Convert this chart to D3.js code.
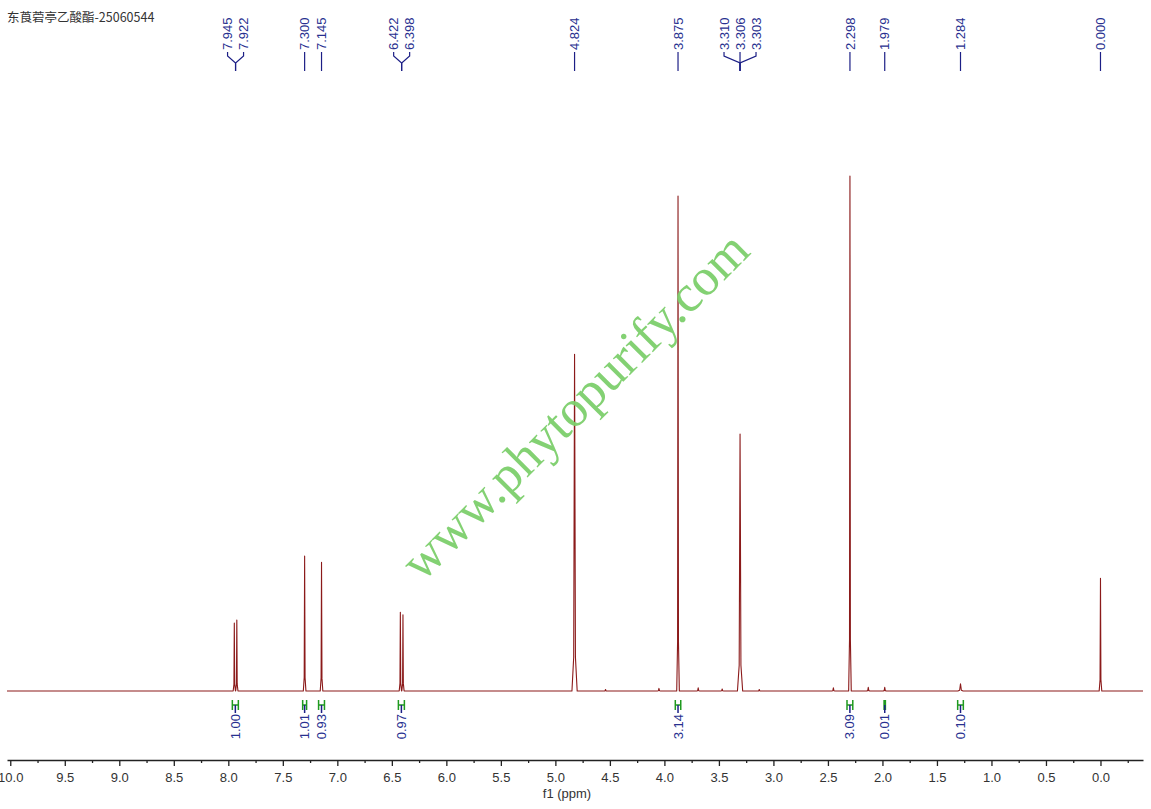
<!DOCTYPE html>
<html>
<head>
<meta charset="utf-8">
<script src="https://cdn.jsdelivr.net/npm/d3@7/dist/d3.min.js"></script>
<style>
  html, body { margin: 0; padding: 0; background: #fff; }
  svg { display: block; }
</style>
</head>
<body>
<svg id="chart" width="1151" height="809"></svg>
<script>
// ---------- DATA ----------
const title = "东莨菪亭乙酸酯-25060544";
const watermark = "www.phytopurify.com";
const axisTitle = "f1 (ppm)";

// spectrum peaks (ppm, relative intensity with 2.298 = 100, half linewidth in ppm)
const peakPpm    = [7.945, 7.922, 7.300, 7.145, 6.422, 6.398, 4.824, 3.875, 3.306, 2.298, 0.000,
                    4.54, 4.05, 3.69, 3.47, 3.13, 2.45, 2.13, 1.979, 1.284];
const peakHeight = [13.2, 13.8, 26.2, 25.0, 15.3, 14.8, 65.4, 96.1, 49.9, 100, 21.9,
                    0.3, 0.5, 0.6, 0.4, 0.3, 0.6, 0.7, 0.7, 1.4];
const peakWidth  = [0.0035, 0.0035, 0.004, 0.004, 0.0035, 0.0035, 0.008, 0.004, 0.008, 0.004, 0.004,
                    0.005, 0.005, 0.005, 0.005, 0.005, 0.005, 0.005, 0.005, 0.008];

// peak-pick labels (grouped as drawn at the top)
const labelGroups = [
  ["7.945", "7.922"],
  ["7.300"],
  ["7.145"],
  ["6.422", "6.398"],
  ["4.824"],
  ["3.875"],
  ["3.310", "3.306", "3.303"],
  ["2.298"],
  ["1.979"],
  ["1.284"],
  ["0.000"]
];

// integrals
const integralFrom  = [7.963, 7.318, 7.172, 6.440, 3.900, 2.325, 1.985, 1.310];
const integralTo    = [7.908, 7.282, 7.118, 6.385, 3.850, 2.272, 1.973, 1.258];
const integralValue = ["1.00", "1.01", "0.93", "0.97", "3.14", "3.09", "0.01", "0.10"];

// axis ticks
const majorTicks = [10.0, 9.5, 9.0, 8.5, 8.0, 7.5, 7.0, 6.5, 6.0, 5.5, 5.0, 4.5, 4.0, 3.5, 3.0, 2.5, 2.0, 1.5, 1.0, 0.5, 0.0];
const minorTicks = [9.75, 9.25, 8.75, 8.25, 7.75, 7.25, 6.75, 6.25, 5.75, 5.25, 4.75, 4.25, 3.75, 3.25, 2.75, 2.25, 1.75, 1.25, 0.75, 0.25, -0.25];
const ppmDomain = [10.03, -0.39];

// ---------- LAYOUT ----------
const svg = d3.select("#chart");
const W = 1151, H = 809;
const axisY = 760;
const baseY = 691;

const x = d3.scaleLinear().domain(ppmDomain).range([7, 1143]);
const y = d3.scaleLinear().domain([0, 100]).range([baseY, 176]);

const labelFont = "'Liberation Sans', Arial, sans-serif";
const blue = "#28308f";
const navy = "#1c1f86";
const green = "#1f9a1f";
const red = "#8b1a1a";

svg.append("rect").attr("width", W).attr("height", H).attr("fill", "#fff");

// title
svg.append("text")
  .attr("x", 7).attr("y", 22)
  .attr("font-family", "'Noto Sans CJK SC', sans-serif")
  .attr("font-size", 12.5)
  .attr("fill", "#333")
  .text(title);

// ---------- SPECTRUM ----------
const pts = [[ppmDomain[0], 0]];
const order = d3.range(peakPpm.length).sort((a, b) => peakPpm[b] - peakPpm[a]);
order.forEach(i => {
  const p = peakPpm[i], h = peakHeight[i], w = peakWidth[i];
  pts.push([p + 3 * w, 0], [p + w, 0.1 * h], [p, h], [p - w, 0.1 * h], [p - 3 * w, 0]);
});
pts.push([ppmDomain[1], 0]);

const line = d3.line().x(d => x(d[0])).y(d => y(d[1]));
svg.append("path")
  .attr("d", line(pts))
  .attr("fill", "none")
  .attr("stroke", red)
  .attr("stroke-width", 1.1)
  .attr("stroke-linejoin", "round");

// ---------- PEAK LABELS ----------
const spacing = 16;
const gLabels = svg.append("g");
labelGroups.forEach(group => {
  const vals = group.map(Number);
  const cx = x(d3.mean(vals));
  group.forEach((lab, k) => {
    const lx = cx + (k - (group.length - 1) / 2) * spacing;
    gLabels.append("text")
      .attr("transform", `translate(${lx},50) rotate(-90)`)
      .attr("text-anchor", "start")
      .attr("dy", "0.35em")
      .attr("font-family", labelFont)
      .attr("font-size", 13)
      .attr("fill", blue)
      .text(lab);
    const d = group.length === 1
      ? `M${lx},52 V71`
      : `M${lx},52 V56 L${cx},63 V71`;
    gLabels.append("path")
      .attr("d", d)
      .attr("fill", "none")
      .attr("stroke", navy)
      .attr("stroke-width", 1.2);
  });
});

// ---------- INTEGRALS ----------
const gInt = svg.append("g");
integralValue.forEach((v, i) => {
  const x1 = x(integralFrom[i]), x2 = x(integralTo[i]);
  const cx = (x1 + x2) / 2;
  gInt.append("path")
    .attr("d", `M${x1},700 V710 M${x2},700 V710 M${x1},705 H${x2}`)
    .attr("fill", "none")
    .attr("stroke", green)
    .attr("stroke-width", 1.5);
  gInt.append("path")
    .attr("d", `M${cx},705 V713`)
    .attr("stroke", navy)
    .attr("stroke-width", 1.5);
  gInt.append("text")
    .attr("transform", `translate(${cx},714) rotate(-90)`)
    .attr("text-anchor", "end")
    .attr("dy", "0.35em")
    .attr("font-family", labelFont)
    .attr("font-size", 13)
    .attr("fill", blue)
    .text(v);
});

// ---------- AXIS ----------
const axis = d3.axisBottom(x)
  .tickValues(majorTicks)
  .tickFormat(d3.format(".1f"))
  .tickSize(6)
  .tickSizeOuter(0)
  .tickPadding(7);
const gAxis = svg.append("g").attr("transform", `translate(0,${axisY})`).call(axis);
gAxis.select(".domain").attr("stroke", "#222").attr("stroke-width", 1.4);
gAxis.selectAll(".tick line").attr("stroke", "#222").attr("stroke-width", 1.3);
gAxis.selectAll(".tick text")
  .attr("font-family", labelFont)
  .attr("font-size", 13)
  .attr("fill", "#333");

const minorAxis = d3.axisBottom(x).tickValues(minorTicks).tickSize(3).tickSizeOuter(0).tickFormat("");
const gMinor = svg.append("g").attr("transform", `translate(0,${axisY})`).call(minorAxis);
gMinor.select(".domain").remove();
gMinor.selectAll(".tick line").attr("stroke", "#222").attr("stroke-width", 1.3);

svg.append("text")
  .attr("x", 567).attr("y", 798)
  .attr("text-anchor", "middle")
  .attr("font-family", labelFont)
  .attr("font-size", 13)
  .attr("fill", "#333")
  .text(axisTitle);

// ---------- WATERMARK ----------
svg.append("text")
  .attr("transform", "translate(587,418) rotate(-45)")
  .attr("text-anchor", "middle")
  .attr("font-family", "'Liberation Serif', 'Times New Roman', serif")
  .attr("font-size", 52)
  .attr("fill", "#7ccf6c")
  .attr("fill-opacity", 0.95)
  .text(watermark);
</script>
</body>
</html>
